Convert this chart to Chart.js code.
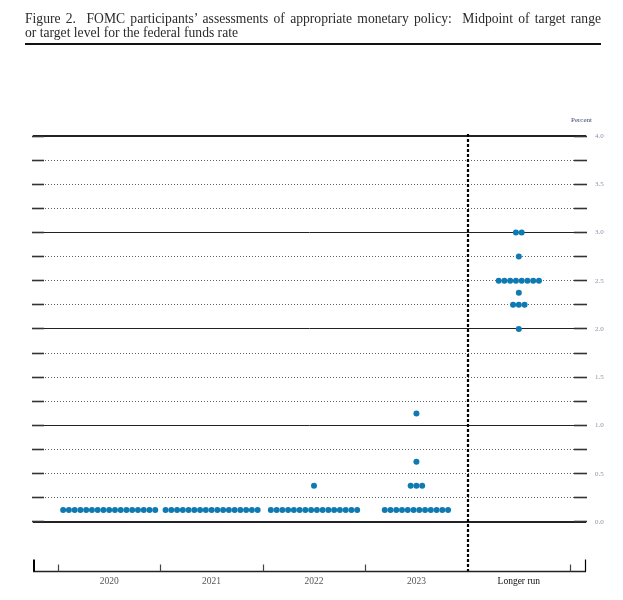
<!DOCTYPE html>
<html>
<head>
<meta charset="utf-8">
<script src="https://cdn.jsdelivr.net/npm/chart.js@4"></script>
<style>
  body { margin: 0; background: #fff; }
  #wrap { position: relative; width: 623px; height: 600px; }
  #graph { position: absolute; left: 0; top: 0; }
  #title { position: absolute; left: 25px; top: 12px; width: 576px; font: 13.6px 'Liberation Serif', serif; line-height: 13.5px; color: #2a2a2a; }
  #title .l1 { text-align: justify; text-align-last: justify; white-space: nowrap; }
  #rule { position: absolute; left: 25px; top: 43px; width: 576px; height: 2px; background: #111; }
  #unit { position: absolute; left: 571px; top: 116px; font: 7px 'Liberation Serif', serif; color: #3c4a6a; }
</style>
</head>
<body>
<div id="wrap">
  <canvas id="graph" width="623" height="600"></canvas>
  <div id="title">
    <div class="l1">Figure 2.&nbsp; FOMC participants’ assessments of appropriate monetary policy:&nbsp; Midpoint of target range</div>
    <div>or target level for the federal funds rate</div>
  </div>
  <div id="rule"></div>
  <div id="unit">Percent</div>
</div>
<script>
const categories = ['2020', '2021', '2022', '2023', 'Longer run'];

// midpoint levels and how many participants put a dot there
const rates2020 = [0.125];
const counts2020 = [17];
const rates2021 = [0.125];
const counts2021 = [17];
const rates2022 = [0.125, 0.375];
const counts2022 = [16, 1];
const rates2023 = [0.125, 0.375, 0.625, 1.125];
const counts2023 = [12, 3, 1, 1];
const ratesLonger = [2.0, 2.25, 2.375, 2.5, 2.75, 3.0];
const countsLonger = [1, 3, 1, 8, 1, 2];

const yTickValues = [0, 0.25, 0.5, 0.75, 1, 1.25, 1.5, 1.75, 2, 2.25, 2.5, 2.75, 3, 3.25, 3.5, 3.75, 4];
const boundaries = [-0.5, 0.5, 1.5, 2.5, 4.5];
const divider = 3.5;

const dotStep = 0.0562;
const dotColor = '#0f7ab2';

const groups = [
    [rates2020, counts2020],
    [rates2021, counts2021],
    [rates2022, counts2022],
    [rates2023, counts2023],
    [ratesLonger, countsLonger]
];

let points = [];
groups.forEach(([rates, counts], i) => {
    rates.forEach((r, k) => {
        const n = counts[k];
        for (let j = 0; j < n; j++) {
            points.push({ x: i + (j - (n - 1) / 2) * dotStep, y: r });
        }
    });
});

function seg(ctx, x1, y1, x2, y2){
    ctx.beginPath();
    ctx.moveTo(x1, y1);
    ctx.lineTo(x2, y2);
    ctx.stroke();
}

const frame = {
    id: 'frame',
    beforeDatasetsDraw(chart){
        const ctx = chart.ctx;
        const a = chart.chartArea;
        const xs = chart.scales.x, ys = chart.scales.y;
        ctx.save();
        ctx.setLineDash([]);
        // short solid ends of every gridline, on the same pixel row as the grid
        ctx.strokeStyle = '#333';
        ctx.lineWidth = 1.6;
        yTickValues.forEach(v => {
            const py = Math.round(ys.getPixelForValue(v) - 0.5) + 0.5;
            seg(ctx, a.left - 1, py, a.left + 11, py);
            seg(ctx, a.right - 12, py, a.right + 1, py);
        });
        // dashed divider before longer run
        const dx = Math.round(xs.getPixelForValue(divider));
        ctx.strokeStyle = '#000';
        ctx.lineWidth = 2.2;
        ctx.setLineDash([3, 2]);
        seg(ctx, dx, a.top - 2, dx, a.bottom);
        ctx.setLineDash([]);
        // bottom axis
        const by = Math.round(a.bottom) + 0.5;
        ctx.strokeStyle = '#222';
        ctx.lineWidth = 1.5;
        seg(ctx, a.left, by, a.right, by);
        ctx.strokeStyle = '#444';
        ctx.lineWidth = 1.2;
        boundaries.forEach(b => {
            const px = Math.round(xs.getPixelForValue(b)) + 0.5;
            seg(ctx, px, by, px, by - 7);
        });
        ctx.strokeStyle = '#000';
        ctx.lineWidth = 2;
        seg(ctx, a.left + 1, by, a.left + 1, by - 12);
        ctx.lineWidth = 1.2;
        seg(ctx, a.right - 0.5, by, a.right - 0.5, by - 12);
        ctx.restore();
    }
};

const ctx = document.querySelector('#graph').getContext('2d');
const chart = new Chart(ctx, {
    type: 'scatter',
    data: {
        datasets: [{
            data: points,
            backgroundColor: dotColor,
            borderWidth: 0,
            pointRadius: 3,
            pointHoverRadius: 3
        }]
    },
    options: {
        responsive: false,
        animation: false,
        events: [],
        layout: { padding: { left: 33, top: 136, right: 0, bottom: 0 } },
        plugins: { legend: { display: false }, tooltip: { enabled: false } },
        scales: {
            x: {
                type: 'linear',
                min: -0.744,
                max: 4.656,
                afterBuildTicks: (s) => { s.ticks = categories.map((c, i) => ({ value: i })); },
                afterFit: (s) => { s.height = 29; },
                grid: { display: false, drawTicks: false },
                border: { display: false },
                ticks: {
                    autoSkip: false,
                    maxRotation: 0,
                    padding: 5,
                    callback: (v) => categories[v],
                    color: (c) => c.index === 4 ? '#111' : '#555',
                    font: { family: 'Liberation Serif', size: 9.5 }
                }
            },
            y: {
                position: 'right',
                min: -0.508,
                max: 4,
                afterBuildTicks: (s) => { s.ticks = yTickValues.map(v => ({ value: v })); },
                afterFit: (s) => { s.width = 37; },
                grid: {
                    drawTicks: false,
                    color: (c) => Number.isInteger(c.tick.value) ? '#222' : '#666',
                    lineWidth: (c) => (c.tick.value === 0 || c.tick.value === 4) ? 2 : 1
                },
                border: {
                    display: false,
                    dash: (c) => Number.isInteger(c.tick.value) ? [] : [1, 2]
                },
                ticks: {
                    autoSkip: false,
                    padding: 9,
                    callback: (v) => v % 0.5 === 0 ? v.toFixed(1) : '',
                    color: '#8a90a2',
                    font: { family: 'Liberation Serif', size: 7 }
                }
            }
        }
    },
    plugins: [frame]
});
</script>
</body>
</html>
